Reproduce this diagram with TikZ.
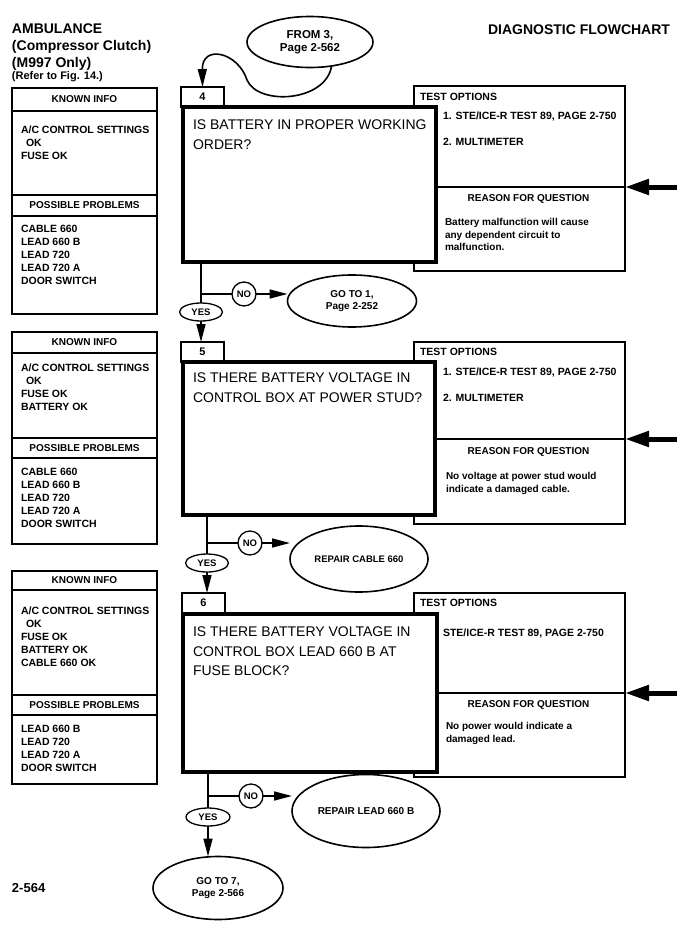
\documentclass[tikz,border=0pt]{standalone}
\usepackage{fontspec}
\setmainfont{Liberation Sans}
\usetikzlibrary{arrows.meta,positioning,shapes.geometric}

\begin{document}
\begin{tikzpicture}[x=1pt, y=-1pt,
    every node/.style={outer sep=0pt},
    panel/.style={draw, line width=1.2pt, fill=white, anchor=north west, inner sep=0pt, minimum width=145pt},
    panelhead/.style={panel, font=\bfseries\fontsize{10}{11}\selectfont},
    optbox/.style={draw, line width=1.2pt, fill=white, anchor=north west, inner sep=0pt, minimum width=211pt},
    qbox/.style={draw, line width=3.6pt, fill=white, anchor=north west, inner sep=0pt},
    numbox/.style={draw, line width=1.2pt, fill=white, anchor=north west, inner sep=0pt, minimum width=43pt, minimum height=20pt, font=\bfseries\fontsize{11}{12}\selectfont},
    qtext/.style={anchor=north west, inner sep=0pt, align=left, font=\fontsize{14}{19.5}\selectfont},
    info/.style={anchor=north west, inner sep=0pt, align=left, font=\bfseries\fontsize{10.5}{13}\selectfont},
    opts/.style={info, font=\bfseries\fontsize{10.5}{26}\selectfont},
    note/.style={info, font=\bfseries\fontsize{10}{12.8}\selectfont},
    oval/.style={draw, ellipse, line width=1.6pt, fill=white, inner sep=0pt, align=center, font=\bfseries\fontsize{10}{12.5}\selectfont},
    yesnode/.style={draw, ellipse, line width=1.3pt, fill=white, inner sep=0pt, minimum width=43pt, minimum height=18pt, font=\bfseries\fontsize{9.5}{10}\selectfont},
    nonode/.style={draw, circle, line width=1.3pt, fill=white, inner sep=0pt, minimum size=24pt, font=\bfseries\fontsize{9.5}{10}\selectfont},
    wire/.style={line width=1.6pt},
    flow/.style={wire, -{Triangle[length=18pt, width=9pt]}},
    inarrow/.style={line width=5pt, -{Triangle[length=24pt, width=15pt]}}
]
\useasboundingbox (0,0) rectangle (693,934);

% page headings
\node[anchor=north west, inner sep=0pt, align=left, font=\bfseries\fontsize{14}{17}\selectfont] (title) at (12,23.5) {AMBULANCE\\(Compressor Clutch)\\(M997 Only)};
\node[anchor=north west, inner sep=0pt, font=\bfseries\fontsize{11}{12}\selectfont] (refer) at (12,72) {(Refer to Fig. 14.)};
\node[anchor=north east, inner sep=0pt, font=\bfseries\fontsize{14}{16}\selectfont] (chart) at (670,25) {DIAGNOSTIC FLOWCHART};
\node[anchor=north west, inner sep=0pt, font=\bfseries\fontsize{13}{14}\selectfont] (pageno) at (12,883.5) {2-564};
\node[oval, minimum width=126pt, minimum height=51pt, font=\bfseries\fontsize{11.5}{13}\selectfont] (from3) at (310,42) {FROM 3,\\Page 2-562};

% step 4
\node[optbox, minimum height=101pt] (opt4) at (414,86) {};
\node[optbox, minimum height=84pt, below=0pt of opt4] (why4) {};
\node[numbox] (num4) at (181,87) {4};
\node[qbox, minimum width=253pt, minimum height=155pt] (q4) at (183,107) {};
\node[qtext, below right=13pt and 10pt of q4.north west] (q4txt) {IS BATTERY IN PROPER WORKING\\ORDER?};
\node[info, below right=7pt and 6pt of opt4.north west] (opt4head) {TEST OPTIONS};
\node[opts, below right=25.5pt and 29pt of opt4.north west] (opt4txt) {1. STE/ICE-R TEST 89, PAGE 2-750\\2. MULTIMETER};
\node[info, anchor=north, font=\bfseries\fontsize{10}{11}\selectfont] (why4head) at ([shift={(9pt,-7.5pt)}]why4.north) {REASON FOR QUESTION};
\node[note, below right=31pt and 31pt of why4.north west] (why4txt) {Battery malfunction will cause\\any dependent circuit to\\malfunction.};
\node[panelhead, minimum height=23pt] (known4) at (12,88) {KNOWN INFO};
\node[panel, minimum height=84pt, below=0pt of known4] (knownlist4) {};
\node[panelhead, minimum height=21pt, below=0pt of knownlist4] (probs4) {POSSIBLE PROBLEMS};
\node[panel, minimum height=98pt, below=0pt of probs4] (probslist4) {};
\node[info, below right=15pt and 9pt of knownlist4.north west] (knowntxt4) {A/C CONTROL SETTINGS\\\hspace*{5pt}OK\\FUSE OK};
\node[info, below right=9pt and 9pt of probslist4.north west] (probstxt4) {CABLE 660\\LEAD 660 B\\LEAD 720\\LEAD 720 A\\DOOR SWITCH};
\coordinate (br4) at (201,294);
\node[nonode] (no4) at (244,294) {NO};
\node[yesnode] (yes4) at (201,312) {YES};
\node[oval, minimum width=129pt, minimum height=52pt] (goto1) at (352,301) {GO TO 1,\\Page 2-252};

% step 5
\node[optbox, minimum height=97pt] (opt5) at (414,342) {};
\node[optbox, minimum height=85pt, below=0pt of opt5] (why5) {};
\node[numbox] (num5) at (181,342) {5};
\node[qbox, minimum width=252pt, minimum height=153pt] (q5) at (183,362) {};
\node[qtext, below right=11pt and 10pt of q5.north west] (q5txt) {IS THERE BATTERY VOLTAGE IN\\CONTROL BOX AT POWER STUD?};
\node[info, below right=6pt and 6pt of opt5.north west] (opt5head) {TEST OPTIONS};
\node[opts, below right=25.5pt and 29pt of opt5.north west] (opt5txt) {1. STE/ICE-R TEST 89, PAGE 2-750\\2. MULTIMETER};
\node[info, anchor=north, font=\bfseries\fontsize{10}{11}\selectfont] (why5head) at ([shift={(9pt,-9pt)}]why5.north) {REASON FOR QUESTION};
\node[note, below right=33pt and 32pt of why5.north west] (why5txt) {No voltage at power stud would\\indicate a damaged cable.};
\node[panelhead, minimum height=21pt] (known5) at (12,332) {KNOWN INFO};
\node[panel, minimum height=85pt, below=0pt of known5] (knownlist5) {};
\node[panelhead, minimum height=20pt, below=0pt of knownlist5] (probs5) {POSSIBLE PROBLEMS};
\node[panel, minimum height=86pt, below=0pt of probs5] (probslist5) {};
\node[info, below right=11pt and 9pt of knownlist5.north west] (knowntxt5) {A/C CONTROL SETTINGS\\\hspace*{5pt}OK\\FUSE OK\\BATTERY OK};
\node[info, below right=10pt and 9pt of probslist5.north west] (probstxt5) {CABLE 660\\LEAD 660 B\\LEAD 720\\LEAD 720 A\\DOOR SWITCH};
\coordinate (br5) at (207,543);
\node[nonode] (no5) at (250,543) {NO};
\node[yesnode] (yes5) at (207,563) {YES};
\node[oval, minimum width=138pt, minimum height=66pt, font=\bfseries\fontsize{9.5}{11}\selectfont] (fix660) at (359,559) {REPAIR CABLE 660};

% step 6
\node[optbox, minimum height=100pt] (opt6) at (414,593) {};
\node[optbox, minimum height=84pt, below=0pt of opt6] (why6) {};
\node[numbox] (num6) at (182,593) {6};
\node[qbox, minimum width=254pt, minimum height=158pt] (q6) at (183,614) {};
\node[qtext, below right=13pt and 10pt of q6.north west] (q6txt) {IS THERE BATTERY VOLTAGE IN\\CONTROL BOX LEAD 660 B AT\\FUSE BLOCK?};
\node[info, below right=6pt and 6pt of opt6.north west] (opt6head) {TEST OPTIONS};
\node[info, below right=36pt and 29pt of opt6.north west] (opt6txt) {STE/ICE-R TEST 89, PAGE 2-750};
\node[info, anchor=north, font=\bfseries\fontsize{10}{11}\selectfont] (why6head) at ([shift={(9pt,-8pt)}]why6.north) {REASON FOR QUESTION};
\node[note, below right=29pt and 32pt of why6.north west] (why6txt) {No power would indicate a\\damaged lead.};
\node[panelhead, minimum height=19pt] (known6) at (12,571) {KNOWN INFO};
\node[panel, minimum height=105pt, below=0pt of known6] (knownlist6) {};
\node[panelhead, minimum height=20pt, below=0pt of knownlist6] (probs6) {POSSIBLE PROBLEMS};
\node[panel, minimum height=69pt, below=0pt of probs6] (probslist6) {};
\node[info, below right=17pt and 9pt of knownlist6.north west] (knowntxt6) {A/C CONTROL SETTINGS\\\hspace*{5pt}OK\\FUSE OK\\BATTERY OK\\CABLE 660 OK};
\node[info, below right=10pt and 9pt of probslist6.north west] (probstxt6) {LEAD 660 B\\LEAD 720\\LEAD 720 A\\DOOR SWITCH};
\coordinate (br6) at (208,796);
\node[nonode] (no6) at (251,796) {NO};
\node[yesnode, minimum width=44pt] (yes6) at (208,817) {YES};
\node[oval, minimum width=148pt, minimum height=73pt] (fix660b) at (366,811) {REPAIR LEAD 660 B};
\node[oval, minimum width=130pt, minimum height=63pt] (goto7) at (218,888) {GO TO 7,\\Page 2-566};

% incoming arrows
\coordinate[right=52pt of opt4.south east] (in4);
\coordinate[right=52pt of opt5.south east] (in5);
\coordinate[right=52pt of opt6.south east] (in6);
\draw[inarrow] (in4) -- (opt4.south east);
\draw[inarrow] (in5) -- (opt5.south east);
\draw[inarrow] (in6) -- (opt6.south east);

% connectors
\draw[flow] (from3.-48) .. controls (326,102) and (258,106) .. (247,80) .. controls (238,52) and (202,44) .. (num4.north);
\draw[wire] (q4.south -| br4) -- (yes4.north);
\draw[wire] (br4) -- (no4.west);
\draw[flow] (no4.east) -- (no4.east -| goto1.west);
\draw[flow] (yes4.south) -- (yes4.south |- num5.north);
\draw[wire] (q5.south -| br5) -- (yes5.north);
\draw[wire] (br5) -- (no5.west);
\draw[flow] (no5.east) -- (no5.east -| fix660.west);
\draw[flow] (yes5.south) -- (yes5.south |- num6.north);
\draw[wire] (q6.south -| br6) -- (yes6.north);
\draw[wire] (br6) -- (no6.west);
\draw[flow] (no6.east) -- (no6.east -| fix660b.west);
\draw[flow] (yes6.south) -- (yes6.south |- goto7.north);
\end{tikzpicture}
\end{document}
